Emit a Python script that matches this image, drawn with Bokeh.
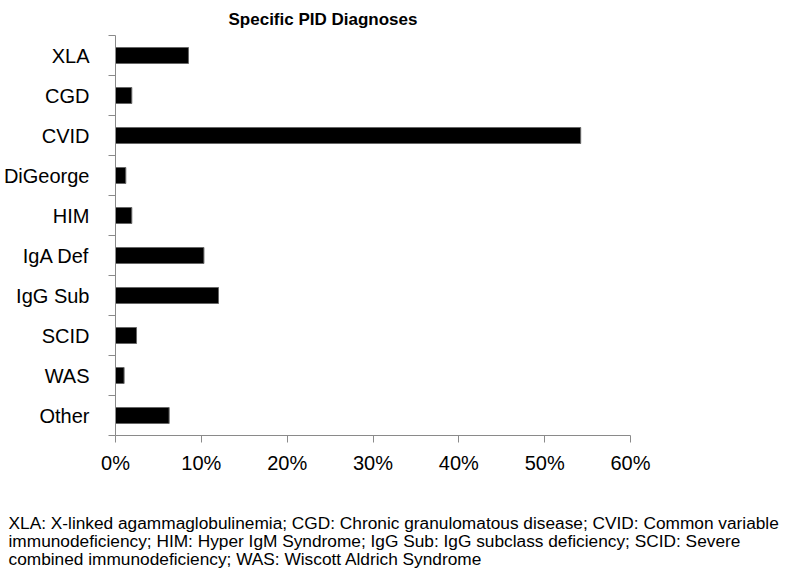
from bokeh.plotting import figure
from bokeh.models import FixedTicker, Range1d, Title, LinearAxis
from bokeh.embed import file_html
from bokeh.resources import INLINE

categories = ["XLA", "CGD", "CVID", "DiGeorge", "HIM", "IgA Def", "IgG Sub", "SCID", "WAS", "Other"]
percent = [8.5, 1.9, 54.2, 1.2, 1.9, 10.3, 12.0, 2.45, 1.0, 6.25]
x_ticks = [0, 10, 20, 30, 40, 50, 60]
x_tick_labels = ["0%", "10%", "20%", "30%", "40%", "50%", "60%"]
title_text = "Specific PID Diagnoses"
footnote_lines = [
    "XLA: X-linked agammaglobulinemia; CGD: Chronic granulomatous disease; CVID: Common variable",
    "immunodeficiency; HIM: Hyper IgM Syndrome;  IgG Sub: IgG subclass deficiency; SCID: Severe",
    "combined immunodeficiency; WAS: Wiscott Aldrich Syndrome",
]

FONT = "Liberation Sans"
n = len(categories)
ypos = [n - i - 0.5 for i in range(n)]

p = figure(width=783, height=571, output_backend="svg", toolbar_location=None,
           x_range=Range1d(0, 60), y_range=Range1d(0, n),
           min_border_left=107, min_border_right=153, min_border_top=35, min_border_bottom=136)
p.outline_line_color = None
p.xgrid.visible = False
p.ygrid.visible = False

p.hbar(y=ypos, right=percent, left=0, height=0.4, fill_color="black", line_color="#666666", line_width=1)

axis_grey = "#8a8a8a"
p.xaxis.ticker = FixedTicker(ticks=x_ticks, minor_ticks=[])
p.xaxis.major_label_overrides = {t: l for t, l in zip(x_ticks, x_tick_labels)}
p.xaxis.axis_line_color = axis_grey
p.xaxis.major_tick_line_color = axis_grey
p.xaxis.major_tick_in = 0
p.xaxis.major_tick_out = 7
p.xaxis.minor_tick_line_color = None
p.xaxis.major_label_text_font = FONT
p.xaxis.major_label_text_font_size = "20px"
p.xaxis.major_label_text_color = "black"
p.xaxis.major_label_standoff = 9

p.yaxis.ticker = FixedTicker(ticks=ypos, minor_ticks=list(range(n + 1)))
p.yaxis.major_label_overrides = {y: c for y, c in zip(ypos, categories)}
p.yaxis.axis_line_color = axis_grey
p.yaxis.major_tick_line_color = None
p.yaxis.major_tick_in = 0
p.yaxis.major_tick_out = 0
p.yaxis.minor_tick_line_color = axis_grey
p.yaxis.minor_tick_in = 0
p.yaxis.minor_tick_out = 7
p.yaxis.major_label_text_font = FONT
p.yaxis.major_label_text_font_size = "20px"
p.yaxis.major_label_text_color = "black"
p.yaxis.major_label_standoff = 19

# title
p.title.text = title_text
p.title.align = "left"
p.title.offset = 113
p.title.vertical_align = "top"
p.title.standoff = 10
p.title.text_font = FONT
p.title.text_font_style = "bold"
p.title.text_font_size = "17px"
p.title.text_color = "black"

# blank spacer axis between the x axis and the footnote (no line, no tick marks, empty label)
spacer = LinearAxis(ticker=FixedTicker(ticks=[0], minor_ticks=[]), axis_line_color=None,
                    major_tick_line_color=None, minor_tick_line_color=None,
                    major_tick_in=0, major_tick_out=36, minor_tick_out=0,
                    major_label_standoff=0, major_label_text_font_size="1px",
                    major_label_overrides={0: ""})
p.add_layout(spacer, "below")

# footnote as a multi-line title below the chart
note = Title(text="\n".join(footnote_lines), align="left", offset=-107, vertical_align="top",
             standoff=0, text_font=FONT, text_font_style="normal", text_font_size="17.3px",
             text_color="black", text_line_height=0.92)
p.add_layout(note, "below")

open("out.html", "w").write(file_html(p, INLINE))
